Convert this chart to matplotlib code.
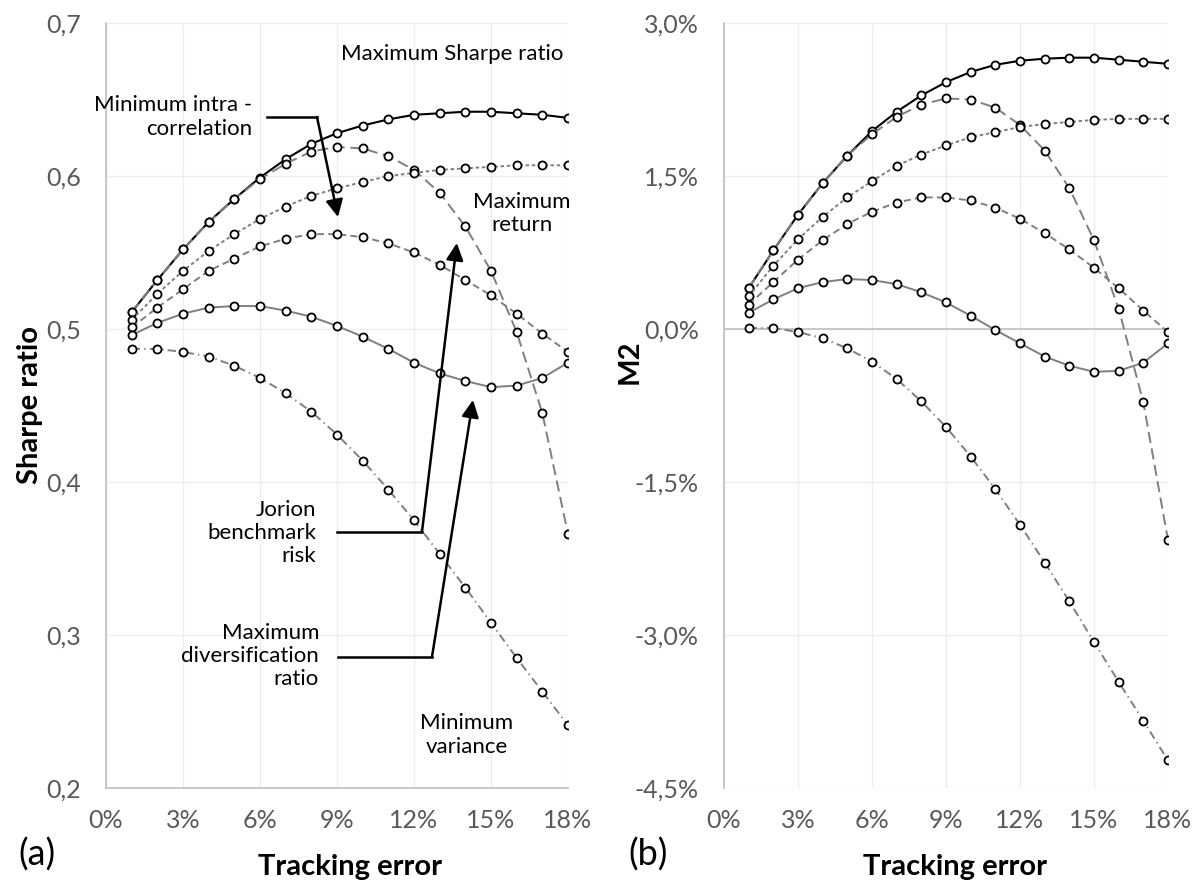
import matplotlib
matplotlib.use('Agg')
import matplotlib.pyplot as plt
from matplotlib.ticker import FuncFormatter

plt.rcParams['font.family'] = ['Lato', 'DejaVu Sans']
plt.rcParams['lines.scale_dashes'] = False

# Tracking error (x axis) for both panels
te = [0.01, 0.02, 0.03, 0.04, 0.05, 0.06, 0.07, 0.08, 0.09,
      0.10, 0.11, 0.12, 0.13, 0.14, 0.15, 0.16, 0.17, 0.18]
x_ticks = [0.0, 0.03, 0.06, 0.09, 0.12, 0.15, 0.18]

# Panel (a): Sharpe ratio
sr_max_sharpe = [0.511, 0.532, 0.552, 0.570, 0.585, 0.599, 0.611, 0.621, 0.628,
                 0.633, 0.637, 0.640, 0.641, 0.642, 0.642, 0.641, 0.640, 0.638]
sr_max_return = [0.511, 0.532, 0.552, 0.570, 0.585, 0.598, 0.608, 0.616, 0.619,
                 0.618, 0.613, 0.604, 0.589, 0.567, 0.538, 0.498, 0.445, 0.366]
sr_intra_corr = [0.506, 0.523, 0.538, 0.551, 0.562, 0.572, 0.580, 0.587, 0.592,
                 0.596, 0.600, 0.602, 0.604, 0.605, 0.606, 0.607, 0.607, 0.607]
sr_jorion = [0.501, 0.514, 0.526, 0.538, 0.546, 0.554, 0.559, 0.562, 0.562,
             0.560, 0.556, 0.550, 0.542, 0.532, 0.522, 0.510, 0.497, 0.485]
sr_max_div = [0.496, 0.504, 0.510, 0.514, 0.515, 0.515, 0.512, 0.508, 0.502,
              0.495, 0.487, 0.478, 0.471, 0.466, 0.462, 0.463, 0.468, 0.478]
sr_min_var = [0.487, 0.487, 0.485, 0.482, 0.476, 0.468, 0.458, 0.446, 0.431,
              0.414, 0.395, 0.375, 0.353, 0.331, 0.308, 0.285, 0.263, 0.241]
sr_ticks = [0.2, 0.3, 0.4, 0.5, 0.6, 0.7]

# Panel (b): M2 in percent
m2_max_sharpe = [0.40, 0.77, 1.12, 1.43, 1.70, 1.94, 2.13, 2.29, 2.42,
                 2.52, 2.59, 2.63, 2.65, 2.66, 2.66, 2.64, 2.62, 2.60]
m2_max_return = [0.40, 0.77, 1.12, 1.43, 1.70, 1.91, 2.08, 2.20, 2.26,
                 2.25, 2.17, 2.00, 1.75, 1.38, 0.87, 0.20, -0.72, -2.07]
m2_intra_corr = [0.32, 0.62, 0.88, 1.10, 1.29, 1.45, 1.60, 1.71, 1.80,
                 1.88, 1.93, 1.98, 2.01, 2.03, 2.05, 2.06, 2.06, 2.06]
m2_jorion = [0.24, 0.46, 0.68, 0.87, 1.03, 1.15, 1.24, 1.29, 1.29,
             1.26, 1.19, 1.08, 0.94, 0.78, 0.60, 0.40, 0.18, -0.03]
m2_max_div = [0.16, 0.29, 0.40, 0.46, 0.49, 0.48, 0.44, 0.36, 0.26,
              0.13, -0.01, -0.14, -0.27, -0.36, -0.42, -0.41, -0.33, -0.14]
m2_min_var = [0.01, 0.01, -0.03, -0.09, -0.19, -0.32, -0.49, -0.71, -0.96,
              -1.25, -1.57, -1.92, -2.29, -2.67, -3.07, -3.46, -3.84, -4.23]
m2_ticks = [-4.5, -3.0, -1.5, 0.0, 1.5, 3.0]

GRAY = '#7F7F7F'
# (color, line width, dash pattern) for each strategy, same order in both panels
styles = [('black', 1.5, None),          # max Sharpe
          (GRAY, 1.4, (8, 4)),           # max return
          (GRAY, 1.4, (2.5, 2)),         # min intra-correlation
          (GRAY, 1.4, (5, 3)),           # Jorion
          (GRAY, 1.4, None),             # max diversification
          (GRAY, 1.4, (6, 3, 1, 3))]     # min variance


def draw_series(ax, series):
    for ys, (col, lw, dash) in zip(series, styles):
        line, = ax.plot(te, ys, color=col, lw=lw, marker='o', ms=5.8,
                        mfc='white', mec='black', mew=1.3)
        if dash is not None:
            line.set_dashes(dash)


def style_axes(ax):
    ax.set_xlim(0, 0.18)
    ax.set_xticks(x_ticks)
    ax.xaxis.set_major_formatter(FuncFormatter(lambda v, p: '{:.0f}%'.format(v * 100)))
    ax.grid(True, color='#EDEDED', lw=1.0)
    ax.set_axisbelow(True)
    for s in ['top', 'right']:
        ax.spines[s].set_visible(False)
    ax.spines['left'].set_color('#BFBFBF')
    ax.spines['left'].set_linewidth(1.2)
    ax.tick_params(length=0, labelsize=18, labelcolor='#595959')
    ax.tick_params(axis='y', pad=18)
    ax.tick_params(axis='x', pad=15)


fig = plt.figure(figsize=(11.96, 8.82), dpi=100)
ax1 = fig.add_axes([106 / 1196, 1 - 788 / 882, 462 / 1196, 765 / 882])
ax2 = fig.add_axes([724 / 1196, 1 - 788 / 882, 444 / 1196, 765 / 882])

# ---- panel (a)
draw_series(ax1, [sr_max_sharpe, sr_max_return, sr_intra_corr,
                  sr_jorion, sr_max_div, sr_min_var])
style_axes(ax1)
ax1.set_ylim(0.2, 0.7)
ax1.set_yticks(sr_ticks)
ax1.yaxis.set_major_formatter(FuncFormatter(lambda v, p: '{:.1f}'.format(v).replace('.', ',')))
ax1.spines['bottom'].set_color('#BFBFBF')
ax1.spines['bottom'].set_linewidth(1.2)

txt = dict(fontsize=16, color='black', linespacing=1.2)
ax1.text(0.135, 0.680, 'Maximum Sharpe ratio', ha='center', va='center', **txt)
ax1.text(0.057, 0.6385, 'Minimum intra -\ncorrelation', ha='right', va='center', **txt)
ax1.text(0.162, 0.5755, 'Maximum\nreturn', ha='center', va='center', **txt)
ax1.text(0.082, 0.3667, 'Jorion\nbenchmark\nrisk', ha='right', va='center', **txt)
ax1.text(0.083, 0.2863, 'Maximum\ndiversification\nratio', ha='right', va='center', **txt)
ax1.text(0.1406, 0.2346, 'Minimum\nvariance', ha='center', va='center', **txt)

arrow = dict(arrowstyle='-|>', color='black', lw=1.8, mutation_scale=26,
             shrinkA=0, shrinkB=0)
# min intra-correlation
ax1.plot([0.0627, 0.0822], [0.6386, 0.6386], color='black', lw=1.8)
ax1.annotate('', xy=(0.0904, 0.5732), xytext=(0.0822, 0.6386), arrowprops=arrow)
# Jorion
ax1.plot([0.090, 0.1231], [0.3673, 0.3673], color='black', lw=1.8)
ax1.annotate('', xy=(0.1367, 0.5562), xytext=(0.1231, 0.3673), arrowprops=arrow)
# max diversification
ax1.plot([0.0904, 0.127], [0.2856, 0.2856], color='black', lw=1.8)
ax1.annotate('', xy=(0.143, 0.4536), xytext=(0.127, 0.2856), arrowprops=arrow)

# ---- panel (b)
draw_series(ax2, [m2_max_sharpe, m2_max_return, m2_intra_corr,
                  m2_jorion, m2_max_div, m2_min_var])
style_axes(ax2)
ax2.set_ylim(-4.5, 3.0)
ax2.set_yticks(m2_ticks)
ax2.yaxis.set_major_formatter(FuncFormatter(lambda v, p: '{:.1f}%'.format(v).replace('.', ',')))
ax2.spines['bottom'].set_visible(False)
ax2.axhline(0, color='#BFBFBF', lw=1.2, zorder=1.5)

# axis titles and panel tags
lab = dict(fontsize=21, fontweight='bold', color='black')
fig.text(350 / 1196, 1 - 875 / 882, 'Tracking error', ha='center', va='baseline', **lab)
fig.text(955 / 1196, 1 - 875 / 882, 'Tracking error', ha='center', va='baseline', **lab)
fig.text(30 / 1196, 1 - 405 / 882, 'Sharpe ratio', rotation=90, ha='center', va='center', **lab)
fig.text(630 / 1196, 1 - 362 / 882, 'M2', rotation=90, ha='center', va='center', **lab)
fig.text(18 / 1196, 1 - 866 / 882, '(a)', fontsize=26, ha='left', va='baseline')
fig.text(628 / 1196, 1 - 866 / 882, '(b)', fontsize=26, ha='left', va='baseline')

fig.savefig('out.png', dpi=100)
